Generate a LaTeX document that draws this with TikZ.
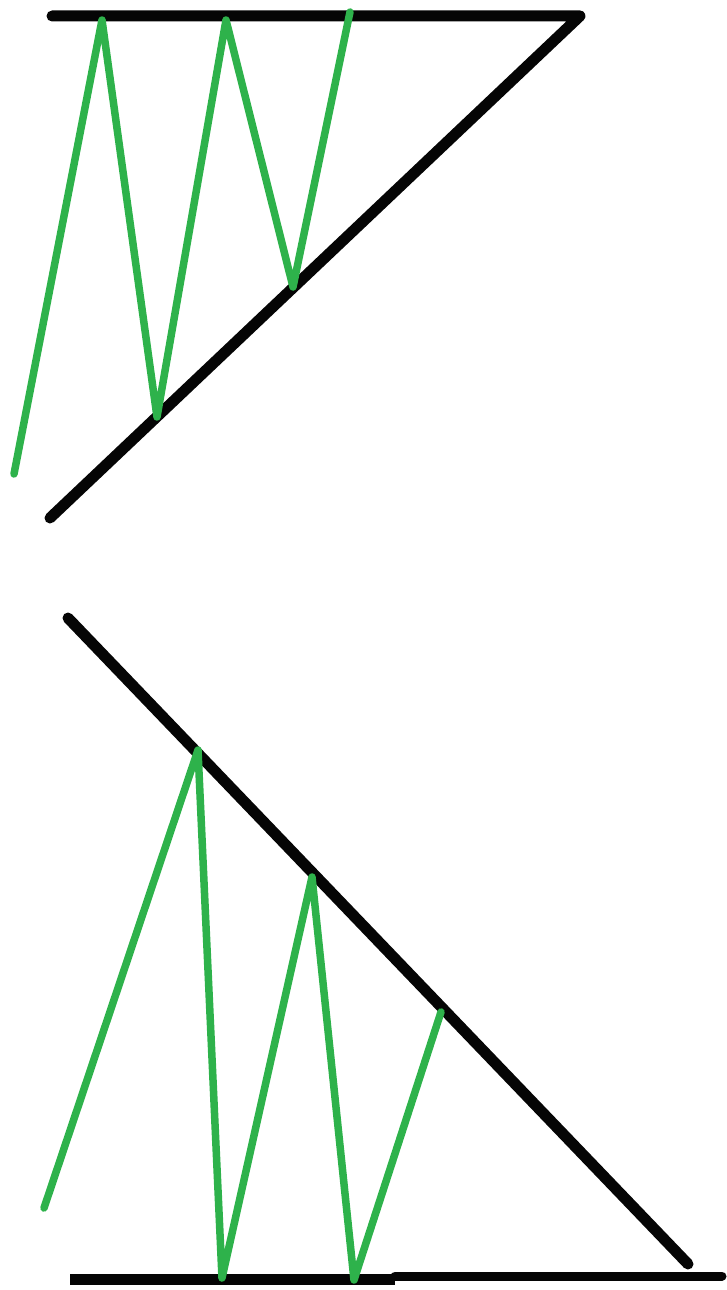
\documentclass[tikz,border=0pt]{standalone}
\usetikzlibrary{calc}
\definecolor{zigzag}{HTML}{2EB24B}
\definecolor{ink}{HTML}{050505}

\begin{document}
\begin{tikzpicture}[x=1pt,y=-1pt,line cap=round,line join=round]
\tikzset{edge/.style={ink,line width=11pt},wave/.style={zigzag,line width=7.5pt}}
\useasboundingbox (0,0) rectangle (726,1290);
% upper wedge
\coordinate (tl) at (52,16);\coordinate (tr) at (580,16);\coordinate (bl) at (50,518);
\draw[edge] (tl)--(tr)--(bl);
\draw[wave] (14,474)--(102,20)--(157,417)--(226,20)--(293,287)--(350,12);
% lower wedge
\coordinate (dtop) at (68,618);\coordinate (dbot) at (688,1264);
\draw[edge] (dtop)--(dbot);
\draw[edge,line cap=butt] (70,1279)--(395,1279);\draw[ink,line width=9pt] (395,1276)--(722,1276);
\draw[wave] (44,1208)--(198,750)--(222,1278)--(312,877)--(354,1280)--(441,1012);
\end{tikzpicture}
\end{document}
